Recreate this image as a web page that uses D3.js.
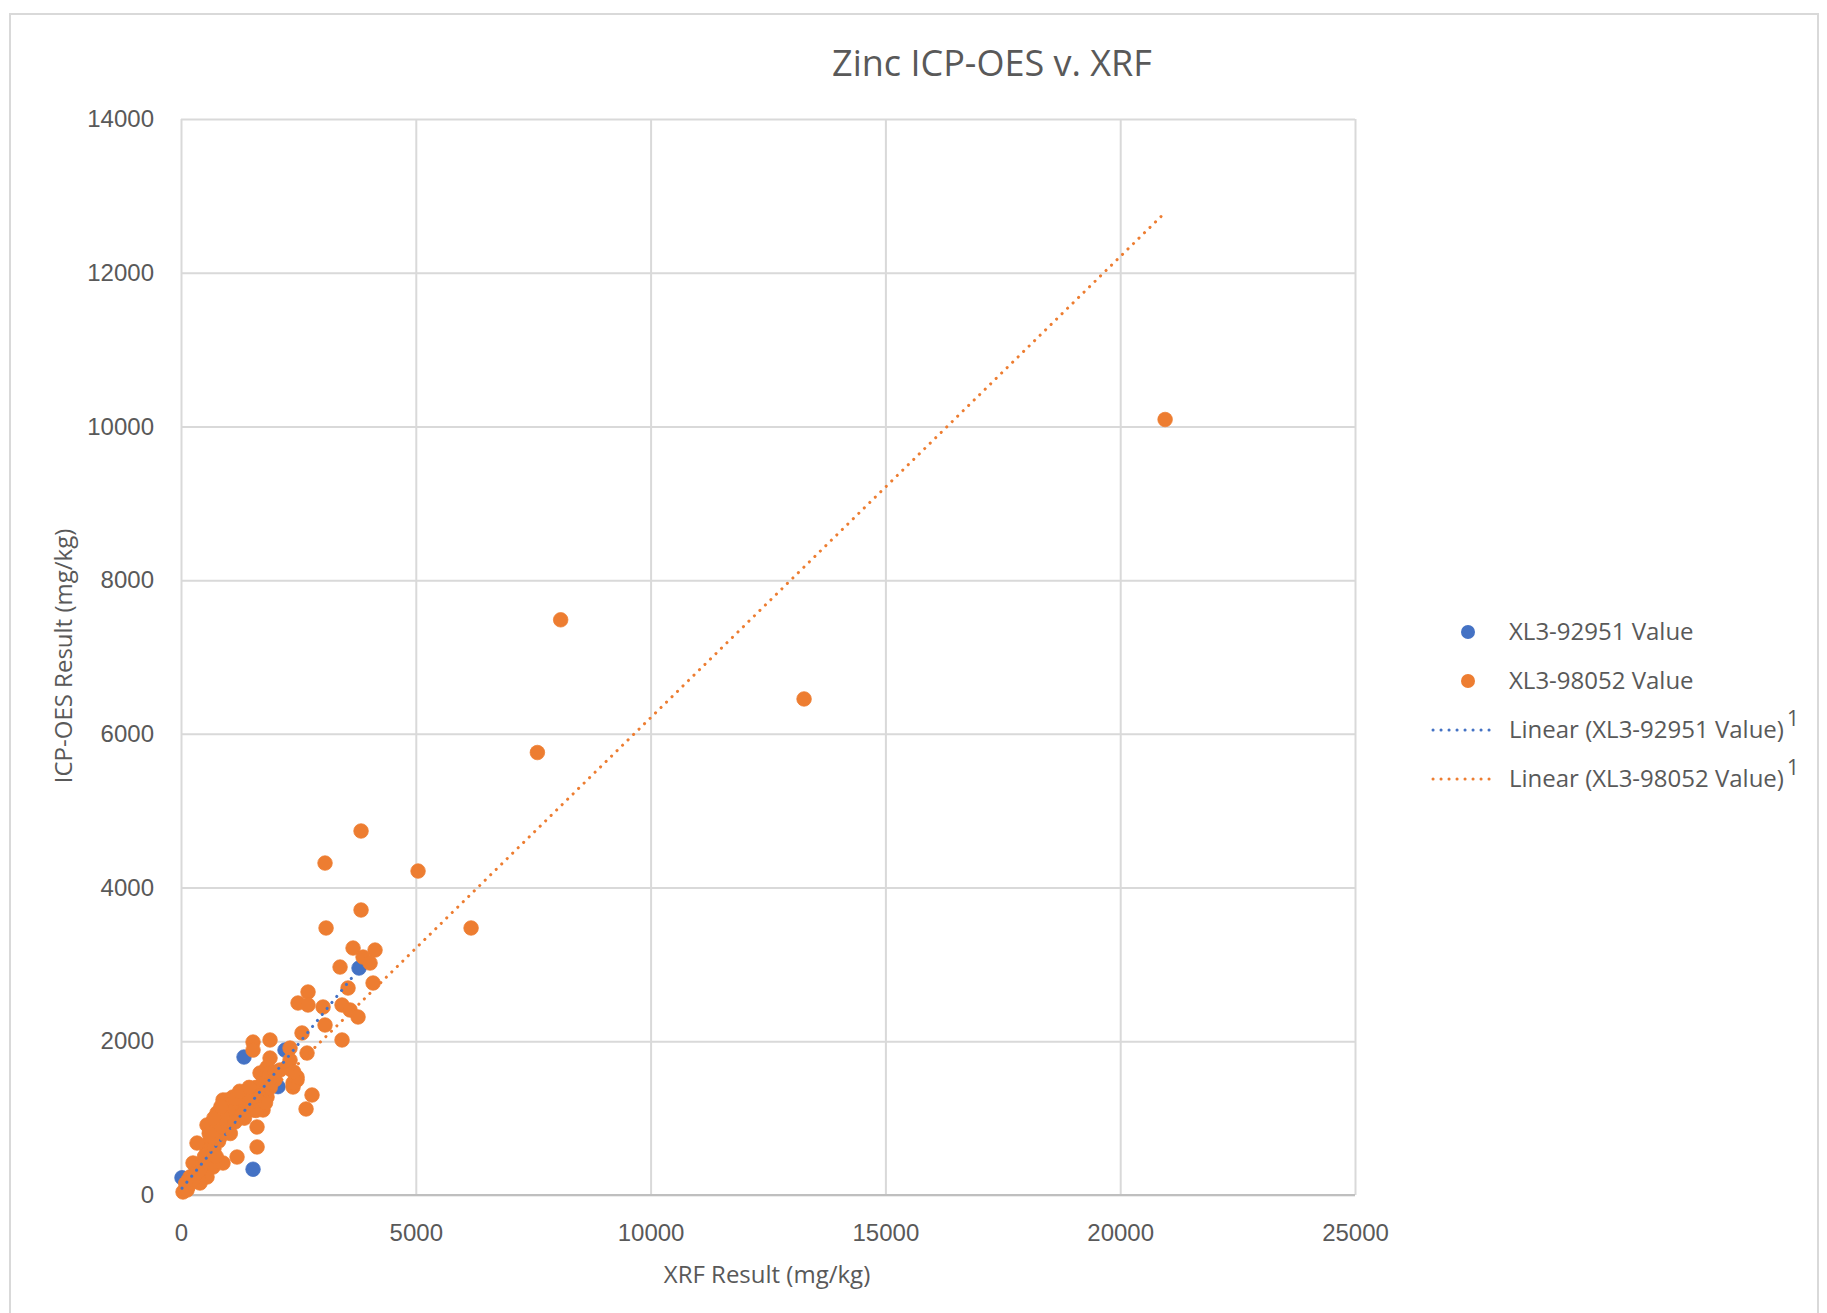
<!DOCTYPE html>
<html>
<head>
<meta charset="utf-8">
<script src="https://cdn.jsdelivr.net/npm/d3@7"></script>
<style>
    body { margin: 0; background: #fff; }
    svg { font-family: 'Open Sans', sans-serif; }
    .tick text { fill: #595959; font-size: 24px; }
    .grid line { stroke: #d9d9d9; stroke-width: 2; }
</style>
</head>
<body>
<div id="chartPlaceholder"></div>
<script>
// values: [XRF, ICP-OES] in mg/kg
const xl3_92951 = [
    [21, 225], [300, 280], [600, 520], [1000, 850], [1342, 1795], [1534, 335],
    [1700, 1350], [2066, 1410], [2215, 1886], [3791, 2953]
];
const xl3_98052 = [
    [20956, 10090], [13268, 6454], [8085, 7484], [7589, 5757], [6177, 3474], [5048, 4215],
    [3834, 4736], [3067, 4319], [3834, 3708], [3089, 3474],
    [3664, 3213], [4132, 3187], [3877, 3096], [4026, 3018], [3387, 2966], [4090, 2758],
    [3557, 2693], [2705, 2641], [2492, 2498], [2705, 2472], [3025, 2446], [3429, 2472],
    [3600, 2407], [3770, 2316], [3067, 2212], [2577, 2108], [3429, 2017], [2684, 1847],
    [2790, 1301], [2663, 1119], [1534, 1990], [1896, 2017], [1534, 1886], [1896, 1782],
    [2322, 1912], [2322, 1756], [2471, 1496], [2386, 1405], [1683, 1587], [1832, 1660],
    [1620, 625], [1193, 494], [1747, 1457], [1896, 1587], [1832, 1275], [2258, 1665],
    [2386, 1457], [2471, 1535], [2109, 1626], [1619, 885], [1683, 1197], [1534, 1106],
    [1470, 1327], [1257, 1106], [1108, 976], [1108, 1275], [895, 1236], [980, 1197],
    [767, 1067], [895, 846], [682, 950], [554, 911], [618, 716], [554, 585],
    [831, 754], [341, 676], [682, 364], [895, 416], [554, 234], [405, 325],
    [256, 416], [192, 234], [149, 104], [43, 39], [128, 65], [405, 156],
    [767, 885], [980, 1236], [1619, 1236], [1747, 1106], [618, 546], [300, 250],
    [700, 600], [1000, 900], [1200, 1000], [1300, 1200], [1400, 1150], [1000, 1050],
    [800, 700], [600, 800], [1100, 1100], [1500, 1250], [1600, 1400], [1800, 1350],
    [2000, 1500], [1700, 1300], [1400, 1300], [1300, 1050], [900, 1000], [500, 500],
    [250, 200], [100, 150], [700, 1000], [850, 1150], [1150, 1250], [1250, 1350],
    [1450, 1400], [1350, 1000], [1600, 1100], [1800, 1200], [2000, 1600], [1900, 1400],
    [750, 500], [450, 400], [350, 300], [1050, 800], [1150, 950], [2400, 1600]
];
// trendline coefficients (slope, intercept) as they appear in the picture
const trend_92951 = [0.757, 72];
const trend_98052 = [0.6, 210];

const xTicks = [0, 5000, 10000, 15000, 20000, 25000];
const yTicks = [0, 2000, 4000, 6000, 8000, 10000, 12000, 14000];
const seriesNames = ['XL3-92951 Value', 'XL3-98052 Value',
                     'Linear (XL3-92951 Value)', 'Linear (XL3-98052 Value)'];
const colors = ['#4472c4', '#ed7d31'];

const plot = {left: 181, right: 1355, top: 119, bottom: 1195};

const svg = d3.select('#chartPlaceholder')
              .append('svg')
              .attr('width', 1827)
              .attr('height', 1313);

// chart frame
svg.append('rect')
   .attr('x', 10).attr('y', 14)
   .attr('width', 1808).attr('height', 1340)
   .attr('fill', 'none')
   .attr('stroke', '#d9d9d9')
   .attr('stroke-width', 2);

const x = d3.scaleLinear().domain([0, 25000]).range([plot.left, plot.right]);
const y = d3.scaleLinear().domain([0, 14000]).range([plot.bottom, plot.top]);

svg.append('g')
   .attr('class', 'grid')
   .attr('transform', `translate(0, ${plot.bottom})`)
   .call(d3.axisBottom(x).tickValues(xTicks).tickFormat(d3.format('d'))
           .tickSize(-(plot.bottom - plot.top)).tickPadding(29))
   .call(g => g.select('.domain').remove());

svg.append('g')
   .attr('class', 'grid')
   .attr('transform', `translate(${plot.left}, 0)`)
   .call(d3.axisLeft(y).tickValues(yTicks).tickFormat(d3.format('d'))
           .tickSize(-(plot.right - plot.left)).tickPadding(27))
   .call(g => g.select('.domain').remove());

svg.selectAll('.tick text').attr('font-family', null);

// horizontal axis line
svg.append('line')
   .attr('x1', x(0)).attr('x2', x(25000))
   .attr('y1', y(0)).attr('y2', y(0))
   .attr('stroke', '#bfbfbf')
   .attr('stroke-width', 2);

const drawPoints = (data, color) => {
    svg.append('g').selectAll('circle').data(data)
       .join('circle')
       .attr('cx', d => x(d[0]))
       .attr('cy', d => y(d[1]))
       .attr('r', 7.3)
       .attr('fill', color)
       .attr('stroke', color)
       .attr('stroke-width', 0.75);
};
drawPoints(xl3_92951, colors[0]);
drawPoints(xl3_98052, colors[1]);

const drawTrend = (data, coef, color) => {
    const ext = d3.extent(data, d => d[0]);
    svg.append('line')
       .attr('x1', x(ext[0])).attr('y1', y(coef[0] * ext[0] + coef[1]))
       .attr('x2', x(ext[1])).attr('y2', y(coef[0] * ext[1] + coef[1]))
       .attr('stroke', color)
       .attr('stroke-width', 3)
       .attr('stroke-linecap', 'round')
       .attr('stroke-dasharray', '0.1 7.6');
};
drawTrend(xl3_92951, trend_92951, colors[0]);
drawTrend(xl3_98052, trend_98052, colors[1]);

// titles
svg.append('text')
   .attr('x', 992).attr('y', 76)
   .attr('text-anchor', 'middle')
   .attr('fill', '#595959')
   .style('font-size', '36px')
   .text('Zinc ICP-OES v. XRF');

svg.append('text')
   .attr('x', 767).attr('y', 1283)
   .attr('text-anchor', 'middle')
   .attr('fill', '#595959')
   .style('font-size', '24px')
   .text('XRF Result (mg/kg)');

svg.append('text')
   .attr('transform', 'translate(64, 656) rotate(-90)')
   .attr('text-anchor', 'middle')
   .attr('dy', '0.35em')
   .attr('fill', '#595959')
   .style('font-size', '24px')
   .text('ICP-OES Result (mg/kg)');

// legend
const legend = svg.append('g');
seriesNames.forEach((name, i) => {
    const rowY = 632 + i * 49;
    const color = colors[i % 2];
    if (i < 2) {
        legend.append('circle')
              .attr('cx', 1468).attr('cy', rowY)
              .attr('r', 7)
              .attr('fill', color);
    } else {
        legend.append('line')
              .attr('x1', 1433).attr('x2', 1497)
              .attr('y1', rowY).attr('y2', rowY)
              .attr('stroke', color)
              .attr('stroke-width', 3)
              .attr('stroke-linecap', 'round')
              .attr('stroke-dasharray', '0.1 7.9');
    }
    const t = legend.append('text')
                    .attr('x', 1509).attr('y', rowY + 8)
                    .attr('fill', '#595959')
                    .style('font-size', '24px')
                    .text(name);
    if (i >= 2) {
        t.append('tspan')
         .attr('dx', 3)
         .attr('dy', -12)
         .style('font-size', '21px')
         .text('1');
    }
});
</script>
</body>
</html>
